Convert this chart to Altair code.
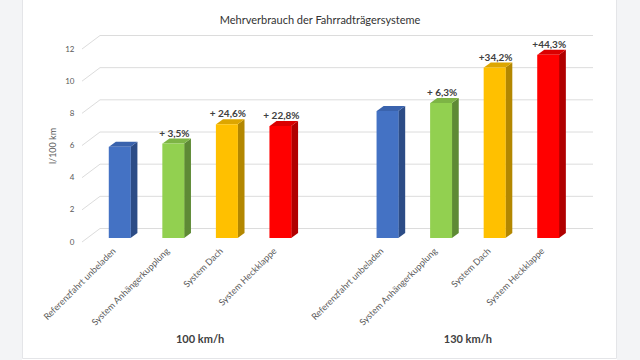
import json
import altair as alt
import pandas as pd

# Fuel consumption (l/100 km) per bike carrier system at two speeds
groups = ["100 km/h", "130 km/h"]
systems = ["Referenzfahrt unbeladen", "System Anhängerkupplung", "System Dach", "System Heckklappe"]
consumption_100 = [5.67, 5.87, 7.07, 6.96]
consumption_130 = [7.90, 8.40, 10.60, 11.40]
labels_100 = ["", "+ 3,5%", "+ 24,6%", "+ 22,8%"]
labels_130 = ["", "+ 6,3%", "+34,2%", "+44,3%"]
y_ticks = [0, 2, 4, 6, 8, 10, 12]
chart_title = "Mehrverbrauch der Fahrradträgersysteme"

# Face colours per system: front, side, top
palette = {
    "Referenzfahrt unbeladen": ("#4472C4", "#2C4C86", "#3A63AD"),
    "System Anhängerkupplung": ("#92D050", "#5E8A35", "#7DB445"),
    "System Dach": ("#FFC000", "#B38700", "#DDA600"),
    "System Heckklappe": ("#FF0000", "#B00000", "#DA0000"),
}

FONT = "Lato"
W, H = 492, 193           # plot area
PAD_L, PAD_T = 88, 45
SLOTS = 9                 # 4 bars, a gap, 4 bars
slot_px = W / SLOTS
unit_px = H / 12
BAR_PX = 22
DEPTH_X_PX, DEPTH_Y_PX = 7, 5

hw = BAR_PX / 2 / slot_px
ddx = DEPTH_X_PX / slot_px
ddy = DEPTH_Y_PX / unit_px

rows = []
for gi, (g, vals, labs) in enumerate(zip(groups, [consumption_100, consumption_130], [labels_100, labels_130])):
    for si, (s, v, lab) in enumerate(zip(systems, vals, labs)):
        front, side, top = palette[s]
        rows.append(dict(group=g, system=s, slot=gi * 5 + si, value=v, label=lab,
                         front=front, side=side, top=top, bar=f"{gi}-{si}"))
bars = pd.DataFrame(rows)

# Side and top faces of the 3D bars as two-point areas
side_rows, top_rows = [], []
for r in rows:
    side_rows.append(dict(bar=r["bar"], x=r["slot"] + hw, y=r["value"], y2=0, c=r["side"]))
    side_rows.append(dict(bar=r["bar"], x=r["slot"] + hw + ddx, y=r["value"] + ddy, y2=ddy, c=r["side"]))
    top_rows.append(dict(bar=r["bar"], y=r["value"], x=r["slot"] - hw, x2=r["slot"] + hw, c=r["top"]))
    top_rows.append(dict(bar=r["bar"], y=r["value"] + ddy, x=r["slot"] - hw + ddx, x2=r["slot"] + hw + ddx, c=r["top"]))
side_df = pd.DataFrame(side_rows)
top_df = pd.DataFrame(top_rows)

tick_df = pd.DataFrame({"t": y_ticks})
group_df = pd.DataFrame({"group": groups,
                         "center": [bars[bars.group == g].slot.mean() for g in groups]})

x_scale = alt.Scale(domain=[-0.5, SLOTS - 0.5], nice=False, zero=False)
y_scale = alt.Scale(domain=[0, 12], nice=False)

slot_names = [""] * SLOTS
for r in rows:
    slot_names[r["slot"]] = r["system"]
label_expr = f"{json.dumps(slot_names, ensure_ascii=False)}[round(datum.value)]"

x_axis = alt.Axis(values=sorted(bars.slot.tolist()), labelExpr=label_expr, labelAngle=-45,
                  labelAlign="right", labelBaseline="middle", labelPadding=11, labelOffset=-6,
                  labelFont=FONT, labelFontSize=9, labelColor="#595959",
                  domain=False, ticks=False, grid=False, title=None, labelOverlap=False,
                  labelBound=False, labelFlush=False)
y_axis = alt.Axis(values=y_ticks, domain=False, ticks=False, grid=False,
                  labelFont=FONT, labelFontSize=8, labelColor="#595959",
                  labelPadding=14, labelOffset=4, labelOverlap=False, labelFlush=False,
                  labelBound=False, labelSeparation=0,
                  title="l/100 km", titleFont=FONT, titleFontSize=9, titleColor="#595959",
                  titleFontWeight="normal", titleX=-36, titleY=H / 2 + 4,
                  titleBaseline="middle", titleAngle=-90)


def X(field):
    return alt.X(field, scale=x_scale, axis=x_axis)


def Y(field):
    return alt.Y(field, scale=y_scale, axis=y_axis)


# grey page around the white card
page = pd.DataFrame({"c": [0]})
margin_left = alt.Chart(page).mark_rect(fill="#f3f4f6").encode(
    x=alt.value(-PAD_L), x2=alt.value(22 - PAD_L), y=alt.value(-PAD_T), y2=alt.value(360 - PAD_T))
margin_right = alt.Chart(page).mark_rect(fill="#f3f4f6").encode(
    x=alt.value(617 - PAD_L), x2=alt.value(640 - PAD_L), y=alt.value(-PAD_T), y2=alt.value(360 - PAD_T))
card_edge = alt.Chart(page).mark_rect(fill=None, stroke="#e4e5e8", strokeWidth=1).encode(
    x=alt.value(22.5 - PAD_L), x2=alt.value(616.5 - PAD_L), y=alt.value(-PAD_T - 2), y2=alt.value(358.5 - PAD_T))

title = alt.Chart(pd.DataFrame({"t": [chart_title]})).mark_text(
    font=FONT, fontSize=11, color="#333333", baseline="middle"
).encode(x=alt.value(320 - PAD_L), y=alt.value(21 - PAD_T), text="t:N")

grid = alt.Chart(tick_df).mark_rule(color="#dcdcdc", strokeWidth=1, yOffset=-9.5).encode(
    y=Y("t:Q"), x=alt.value(100 - PAD_L), x2=alt.value(593 - PAD_L))

diag = alt.Chart(tick_df).mark_rule(color="#dcdcdc", strokeWidth=1, yOffset=4, y2Offset=-9.5).encode(
    y=Y("t:Q"), y2="t:Q", x=alt.value(82 - PAD_L), x2=alt.value(100 - PAD_L))

side = alt.Chart(side_df).mark_area(orient="vertical", interpolate="linear").encode(
    x=X("x:Q"), y=Y("y:Q"), y2="y2:Q",
    fill=alt.Fill("c:N", scale=None), detail="bar:N")

top = alt.Chart(top_df).mark_area(orient="horizontal", interpolate="linear").encode(
    y=Y("y:Q"), x=X("x:Q"), x2="x2:Q",
    fill=alt.Fill("c:N", scale=None), detail="bar:N")

front = alt.Chart(bars).mark_bar(size=BAR_PX).encode(
    x=X("slot:Q"), y=Y("value:Q"), fill=alt.Fill("front:N", scale=None))

values_text = alt.Chart(bars).mark_text(
    font=FONT, fontSize=10, fontWeight="bold", color="#404040",
    baseline="bottom", dx=1, dy=-5
).encode(x=X("slot:Q"), y=Y("value:Q"), text="label:N")

group_text = alt.Chart(group_df).mark_text(
    font=FONT, fontSize=11, fontWeight="bold", color="#404040", baseline="middle"
).encode(x=X("center:Q"), y=alt.value(340 - PAD_T), text="group:N")

chart = alt.layer(margin_left, margin_right, card_edge, grid, diag, side, top, front,
                  values_text, group_text, title).properties(
    width=W, height=H,
    autosize=alt.AutoSizeParams(type="none"),
    padding={"left": PAD_L, "top": PAD_T, "right": 640 - PAD_L - W, "bottom": 360 - PAD_T - H},
    background="white",
).configure_view(stroke=None).configure_axis(labelOverlap=False)

chart.save("out.html", embed_options={"renderer": "svg", "actions": False})
